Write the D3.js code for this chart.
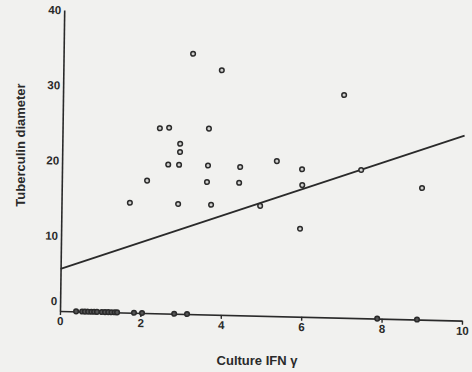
<!DOCTYPE html>
<html>
<head>
<meta charset="utf-8">
<script src="https://cdn.jsdelivr.net/npm/d3@7"></script>
<style>
  body { margin: 0; background: #f1f1ef; }
  svg { display: block; }
  text { font-family: "Liberation Sans", Arial, sans-serif; fill: #2a2a2a; }
</style>
</head>
<body>
<div id="chart"></div>
<script>
// values
var ifn   = [3.22, 3.94, 2.42, 2.65, 3.64, 2.93, 2.93, 2.64, 2.91, 3.63, 4.43, 2.12, 3.61,
             4.41, 1.70, 2.90, 3.72, 5.34, 5.97, 5.98, 4.94, 5.94, 7.44, 6.99, 8.96];
var diam  = [34.6, 32.5, 24.6, 24.7, 24.7, 22.6, 21.5, 19.8, 19.8, 19.8, 19.7, 17.6, 17.6,
             17.6, 14.6, 14.6, 14.6, 20.6, 19.6, 17.5, 14.6, 11.7, 19.7, 29.6, 17.5];
// non-responders sitting on the x axis
var zeroIfn = [0.40, 0.55, 0.62, 0.70, 0.78, 0.85, 0.92, 1.04, 1.12, 1.20, 1.28, 1.36,
               1.42, 1.84, 2.04, 2.84, 3.16, 7.89, 8.88];
// regression line end points
var fitX = [0, 10];
var fitY = [5.6, 24.6];
var xTicks = [0, 2, 4, 6, 8, 10];
var yTicks = [0, 10, 20, 30, 40];

var W = 472, H = 372;
var ox = 60, oy = 311;

var svg = d3.select("#chart").append("svg")
    .attr("width", W)
    .attr("height", H);

svg.append("rect").attr("width", W).attr("height", H).attr("fill", "#f1f1ef");

// the scan is slightly skewed, so the plot area is too
var g = svg.append("g")
    .attr("transform", "translate(" + ox + "," + oy + ") matrix(1,0.024,-0.014,1,0,0) translate(" + (-ox) + "," + (-oy) + ")");

var x = d3.scaleLinear().domain([0, 10]).range([ox, 462]);
var y = d3.scaleLinear().domain([0, 40]).range([oy, 10]);

// x axis
var xAxis = g.append("g")
    .attr("transform", "translate(0," + oy + ")")
    .call(d3.axisBottom(x).tickValues(xTicks).tickSize(4).tickPadding(2).tickSizeOuter(0));
// y axis
var yAxis = g.append("g")
    .attr("transform", "translate(" + ox + ",0)")
    .call(d3.axisLeft(y).tickValues(yTicks).tickSize(0).tickPadding(3).tickSizeOuter(0));

[xAxis, yAxis].forEach(function(a) {
    a.select(".domain").attr("stroke", "#2a2a2a").attr("stroke-width", 1.6);
    a.selectAll(".tick line").attr("stroke", "#2a2a2a").attr("stroke-width", 1.4);
    a.selectAll(".tick text")
        .style("font-size", "11.5px")
        .style("font-weight", "bold")
        .attr("fill", "#2a2a2a");
});
// the 0 on the y axis sits a bit above the x axis
yAxis.selectAll(".tick").filter(function(d) { return d === 0; })
    .select("text").attr("y", -10);

// regression line
g.append("line")
    .attr("x1", x(fitX[0])).attr("y1", y(fitY[0]))
    .attr("x2", x(fitX[1])).attr("y2", y(fitY[1]))
    .attr("stroke", "#2a2a2a")
    .attr("stroke-width", 1.8);

// points
var pts = ifn.map(function(v, i) { return {x: v, y: diam[i], z: false}; })
    .concat(zeroIfn.map(function(v) { return {x: v, y: 0, z: true}; }));

g.selectAll(".dot")
    .data(pts)
    .enter().append("circle")
    .attr("class", "dot")
    .attr("cx", function(d) { return x(d.x); })
    .attr("cy", function(d) { return y(d.y); })
    .attr("r", 2.3)
    .attr("fill", function(d) { return d.z ? "#555" : "#d0d0ce"; })
    .attr("stroke", "#2a2a2a")
    .attr("stroke-width", 1.5);

// axis titles
svg.append("text")
    .attr("transform", "translate(25,145) rotate(-90)")
    .attr("text-anchor", "middle")
    .style("font-size", "13px")
    .style("font-weight", "bold")
    .text("Tuberculin diameter");

svg.append("text")
    .attr("x", 257)
    .attr("y", 365)
    .attr("text-anchor", "middle")
    .style("font-size", "13px")
    .style("font-weight", "bold")
    .text("Culture IFN γ");
</script>
</body>
</html>
